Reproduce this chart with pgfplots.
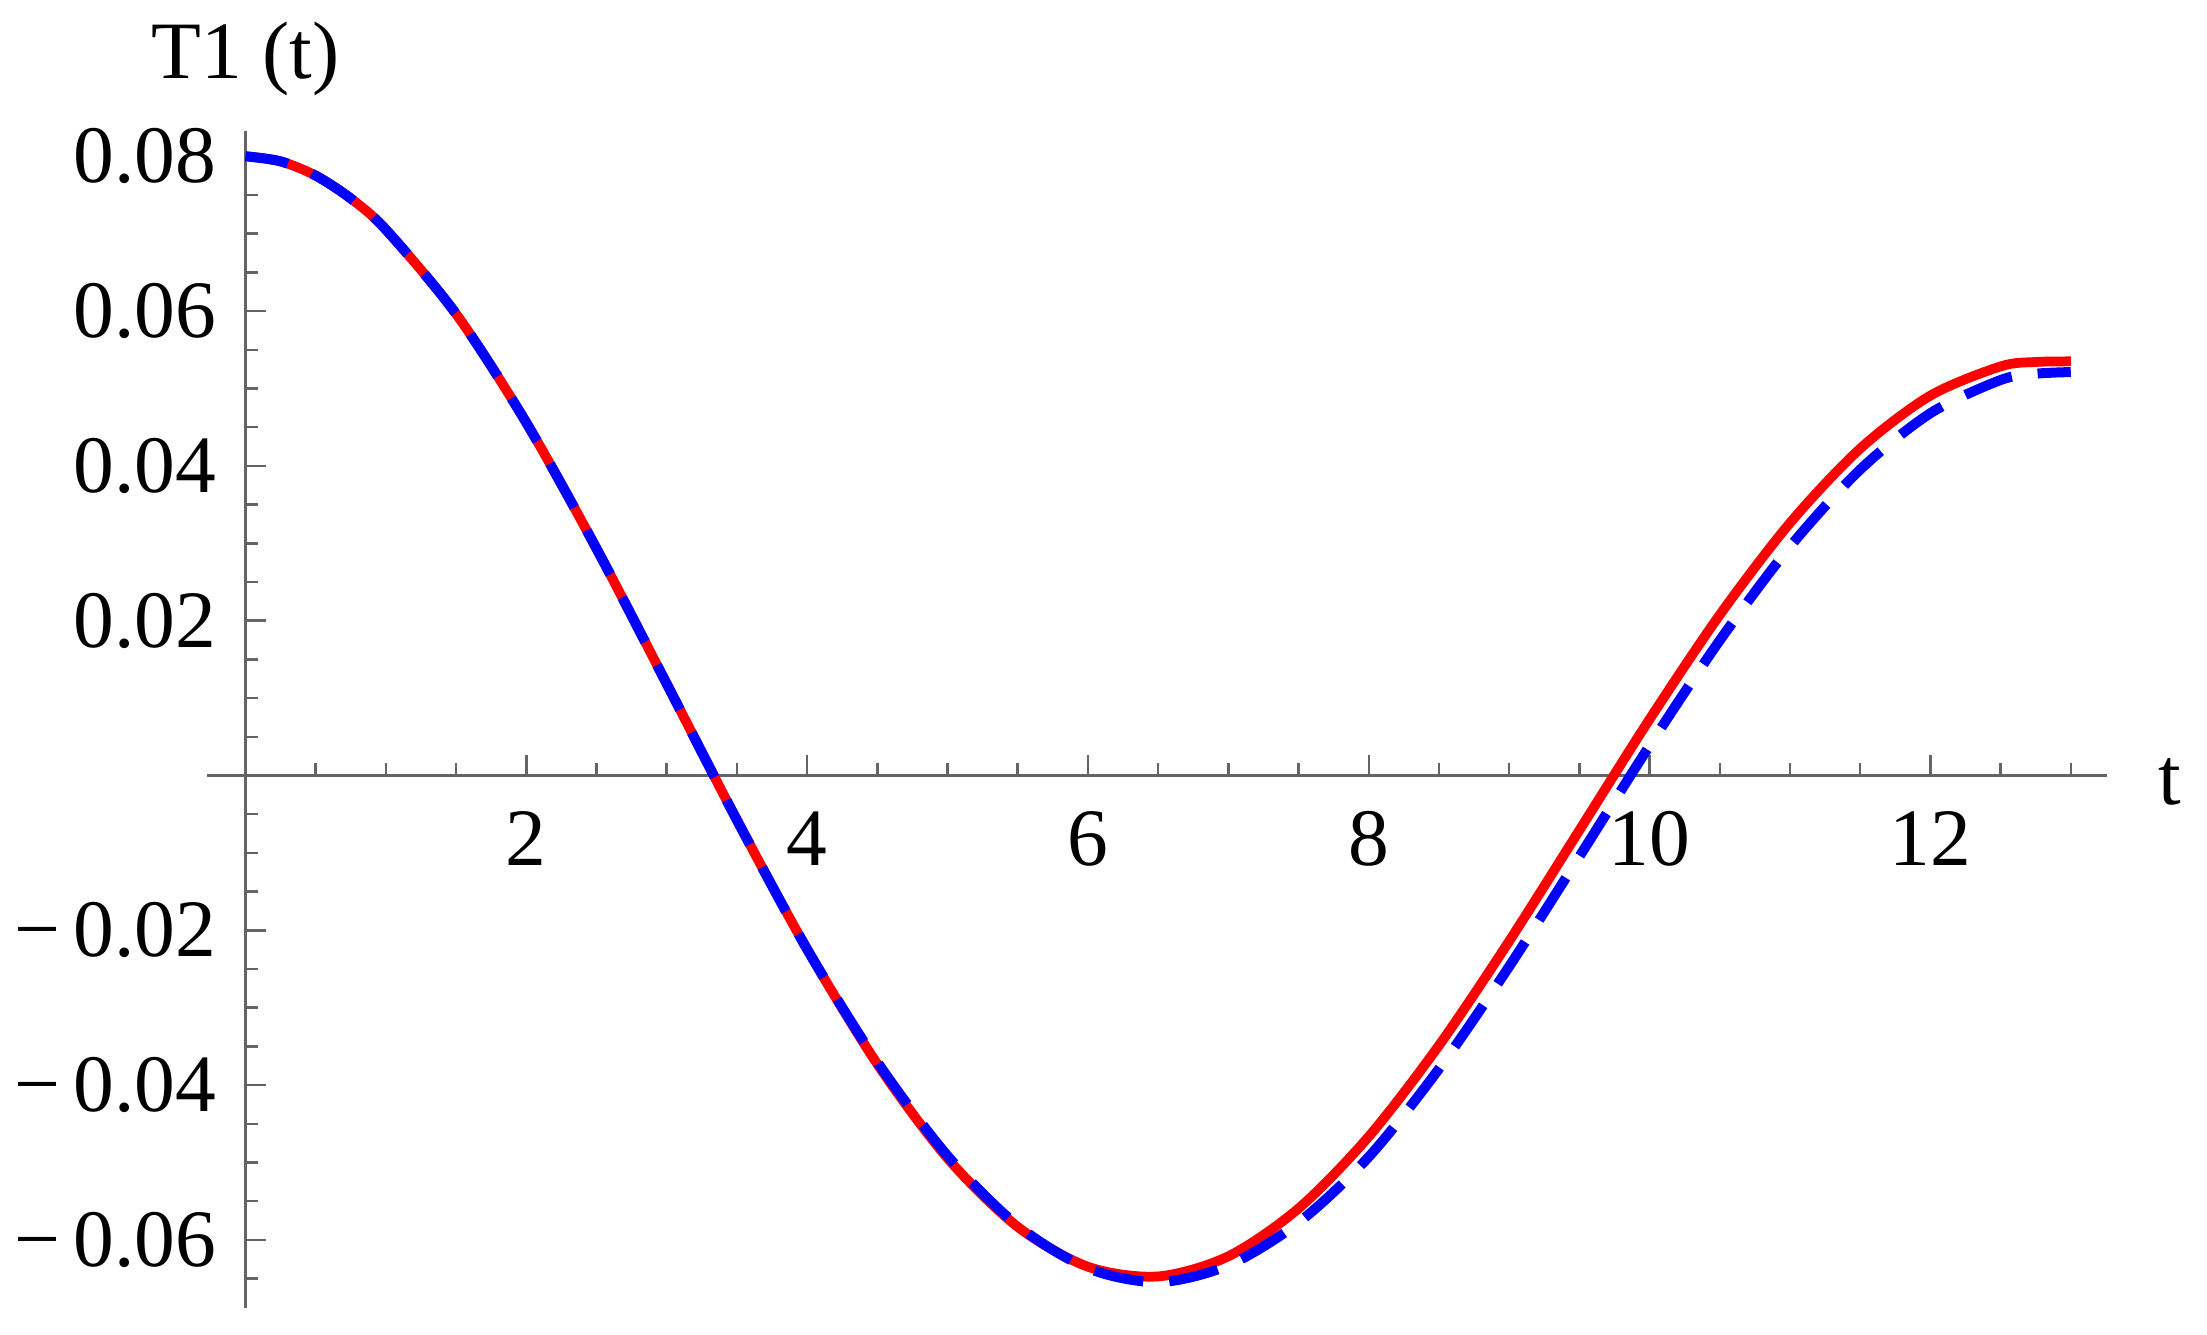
\documentclass[border=0pt]{standalone}
\usepackage{fontspec}
\setmainfont{Liberation Serif}
\usepackage{pgfplots}
\pgfplotsset{compat=1.18}
\definecolor{axgray}{RGB}{100,100,100}
\newcommand{\lblfont}{\fontsize{16.3pt}{19pt}\selectfont}
\newcommand{\mn}{\char"2212\hspace{2.6pt}}
\begin{document}
\begin{tikzpicture}
\begin{axis}[
  scale only axis,
  width=380pt, height=235.3pt,
  xmin=-0.2742, xmax=13.258,
  ymin=-0.0688, ymax=0.0832,
  axis lines=middle,
  axis line style={-, draw=axgray, line width=0.55pt},
  every inner x axis line/.append style={-},
  every inner y axis line/.append style={-},
  tick style={draw=axgray, line width=0.5pt},
  tick align=inside,
  major tick length=4pt, minor tick length=2.4pt,
  scaled x ticks=false, scaled y ticks=false,
  xtick={2,4,6,8,10,12},
  xticklabels={2,4,6,8,10,12},
  minor xtick={0.5,1,1.5,2.5,3,3.5,4.5,5,5.5,6.5,7,7.5,8.5,9,9.5,10.5,11,11.5,12.5,13},
  ytick={-0.06,-0.04,-0.02,0.02,0.04,0.06,0.08},
  yticklabels={\mn0.06,\mn0.04,\mn0.02,0.02,0.04,0.06,0.08},
  minor ytick={-0.065,-0.055,-0.05,-0.045,-0.035,-0.03,-0.025,-0.015,-0.01,-0.005,0.005,0.01,0.015,0.025,0.03,0.035,0.045,0.05,0.055,0.065,0.07,0.075},
  tick label style={font=\lblfont, text=black},
  xticklabel style={anchor=north, inner sep=0pt, yshift=-7pt},
  yticklabel style={anchor=east, inner sep=0pt, xshift=-5.7pt},
  xlabel={t}, ylabel={T1 (t)},
  xlabel style={at={(axis description cs:1,0.4526)}, anchor=base west, inner sep=0pt, xshift=10pt, yshift=-5.9pt, font=\lblfont},
  ylabel style={at={(axis description cs:0.02026,1)}, anchor=base, inner sep=0pt, yshift=10.6pt, font=\lblfont},
  clip=false,
]
\coordinate (SW) at (rel axis cs:0,0);
\coordinate (NE) at (rel axis cs:1,1);
\addplot[red, line width=1.95pt, smooth] coordinates {
(0,0.08000) (0.25,0.07934) (0.5,0.07750) (0.75,0.07454) (1,0.07052) (1.5,0.05963) (2,0.04558) (2.5,0.02931)
(3,0.01184) (3.5,-0.00576) (4,-0.02245) (4.5,-0.03728) (5,-0.04945) (5.5,-0.05832)
(6,-0.06347) (6.5,-0.06472) (7,-0.06212) (7.5,-0.05594) (8,-0.04665) (8.5,-0.03488)
(9,-0.02141) (9.5,-0.00708) (10,0.00726) (10.5,0.02075) (11,0.03262) (11.5,0.04223)
(12,0.04908) (12.5,0.05285) (12.75,0.05342) (13,0.05350)
};
\addplot[blue, line width=2pt, smooth, dash pattern=on 10pt off 5.2pt, dash phase=1.4pt] coordinates {
(0,0.08000) (0.25,0.07934) (0.5,0.07750) (0.75,0.07454) (1,0.07052) (1.5,0.05963) (2,0.04558) (2.5,0.02931)
(3,0.01184) (3.5,-0.00576) (4,-0.02245) (4.5,-0.03703) (5,-0.04914) (5.5,-0.05816)
(6,-0.06367) (6.5,-0.06546) (7,-0.06329) (7.5,-0.05776) (8,-0.04928) (8.5,-0.03790)
(9,-0.02468) (9.5,-0.01048) (10,0.00385) (10.5,0.01745) (11,0.02956) (11.5,0.03952)
(12,0.04680) (12.5,0.05109) (12.75,0.05190) (13,0.05212)
};
\end{axis}
\pgfresetboundingbox
\path ([xshift=-41.4pt,yshift=-5.4pt]SW) rectangle ([xshift=20pt,yshift=26.3pt]NE);
\end{tikzpicture}
\end{document}
